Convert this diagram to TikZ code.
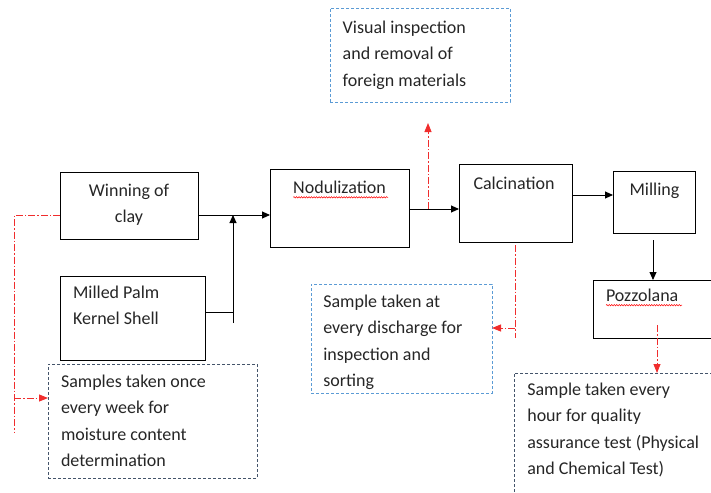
\documentclass[tikz,border=0pt]{standalone}
\usepackage{fontspec}
\setmainfont{Carlito}
\usetikzlibrary{arrows.meta,decorations.pathmorphing}

\definecolor{flowred}{RGB}{240,45,45}
\definecolor{noteblue}{RGB}{91,155,213}
\definecolor{noteslate}{RGB}{68,84,106}

% multi-line text whose base anchor is the baseline of the first line
\newcommand\txtlines[2][l]{\begin{tabular}[t]{@{}#1@{}}#2\end{tabular}}

\begin{document}
\begin{tikzpicture}[x=1pt,y=-1pt,
  every node/.style={inner sep=0pt, outer sep=0pt},
  stagebox/.style={draw=black, line width=0.9pt, rectangle},
  notebox/.style={draw=#1, line width=0.9pt, rectangle, dash pattern=on 3pt off 2pt},
  label/.style={font=\fontsize{18}{26.5}\selectfont, text=black!85},
  flow/.style={draw=black, line width=0.9pt},
  flowarr/.style={flow, -{Triangle[length=8pt,width=7pt]}},
  sampling/.style={draw=flowred, line width=0.9pt, dash pattern=on 7pt off 2pt on 1.5pt off 2pt},
  samplarr/.style={sampling, -{Triangle[length=9pt,width=7pt]}},
  spellmark/.style={draw=red, line width=0.5pt, decorate,
    decoration={snake, amplitude=0.7pt, segment length=2.5pt}}
]
\useasboundingbox (0,0) rectangle (711,492);
\clip (0,0) rectangle (711,492);

% process stages
\node[stagebox, minimum width=138, minimum height=67] (win)  at (129,205.5) {};
\node[stagebox, minimum width=145, minimum height=84] (mps)  at (132.5,318) {};
\node[stagebox, minimum width=139, minimum height=78] (nod)  at (339.5,208) {};
\node[stagebox, minimum width=113, minimum height=78] (cal)  at (515.5,203) {};
\node[stagebox, minimum width=82,  minimum height=62] (mill) at (654,202) {};
\node[stagebox, minimum width=127, minimum height=58] (pozz) at (656.5,309) {};

% quality-control notes
\node[notebox=noteblue,  minimum width=180, minimum height=94]  (visual)  at (420,55) {};
\node[notebox=noteblue,  minimum width=181, minimum height=109] (disch)   at (401.5,338.5) {};
\node[notebox=noteslate, minimum width=209, minimum height=114] (samples) at (152.5,421) {};
\node[notebox=noteslate, minimum width=216, minimum height=137] (hour)    at (622,441.5) {};

% stage labels
\node[label, anchor=base] (twin) at (129,196) {\txtlines[c]{Winning of\\clay}};
\node[label, anchor=base west] (tmps) at (73,298.3) {\txtlines{Milled Palm\\Kernel Shell}};
\node[label, anchor=base] (tnod) at (339.5,193.3) {Nodulization};
\node[label, anchor=base] (tcal) at (514,189) {Calcination};
\node[label, anchor=base] (tmill) at (654.5,195) {Milling};
\node[label, anchor=base west] (tpozz) at (606,301.7) {Pozzolana};

% note texts
\node[label, anchor=base west] (tvisual) at (342.7,33.3)
  {\txtlines{Visual inspection\\and removal of\\foreign materials}};
\node[label, anchor=base west] (tdisch) at (323.3,307.3)
  {\txtlines{Sample taken at\\every discharge for\\inspection and\\sorting}};
\node[label, anchor=base west] (tsamples) at (61,387)
  {\txtlines{Samples taken once\\every week for\\moisture content\\determination}};
\node[label, anchor=base west] (thour) at (527.3,395)
  {\txtlines{Sample taken every\\hour for quality\\assurance test (Physical\\and Chemical Test)}};

% spelling marks under two labels
\draw[spellmark] (tnod.base west) ++(0,4) -- ++(95,0);
\draw[spellmark] (tpozz.base west) ++(0,3.5) -- ++(76,0);

% junction points of the flow lines
\coordinate (j)   at (233,215);
\coordinate (m)   at (233,312);
\coordinate (jb)  at (233,323);
\coordinate (k)   at (428,209);
\coordinate (vt)  at (428,123);
\coordinate (cm)  at (613,195);
\coordinate (ms)  at (653,240);
\coordinate (ps)  at (657,325);
\coordinate (cs)  at (515,245);
\coordinate (ce)  at (515,338);
\coordinate (ch)  at (515,328);
\coordinate (wl)  at (14,215);
\coordinate (wb)  at (14,432);
\coordinate (wh)  at (14,398);

% material flow
\draw[flowarr] (win.east |- j) -- (nod.west |- j);
\draw[flow] (mps.east |- m) -- (m);
\draw[flowarr] (jb) -- (j);
\draw[flowarr] (nod.east |- k) -- (cal.west |- k);
\draw[flowarr] (cal.east |- cm) -- (cm);
\draw[flowarr] (ms) -- (pozz.north -| ms);

% sampling lines
\draw[sampling] (win.west |- wl) -- (wl) -- (wb);
\draw[samplarr] (wh) -- (samples.west |- wh);
\draw[samplarr] (k) -- (vt);
\draw[sampling] (cs) -- (ce);
\draw[samplarr] (ch) -- (disch.east |- ch);
\draw[samplarr] (ps) -- (hour.north -| ps);
\end{tikzpicture}
\end{document}
